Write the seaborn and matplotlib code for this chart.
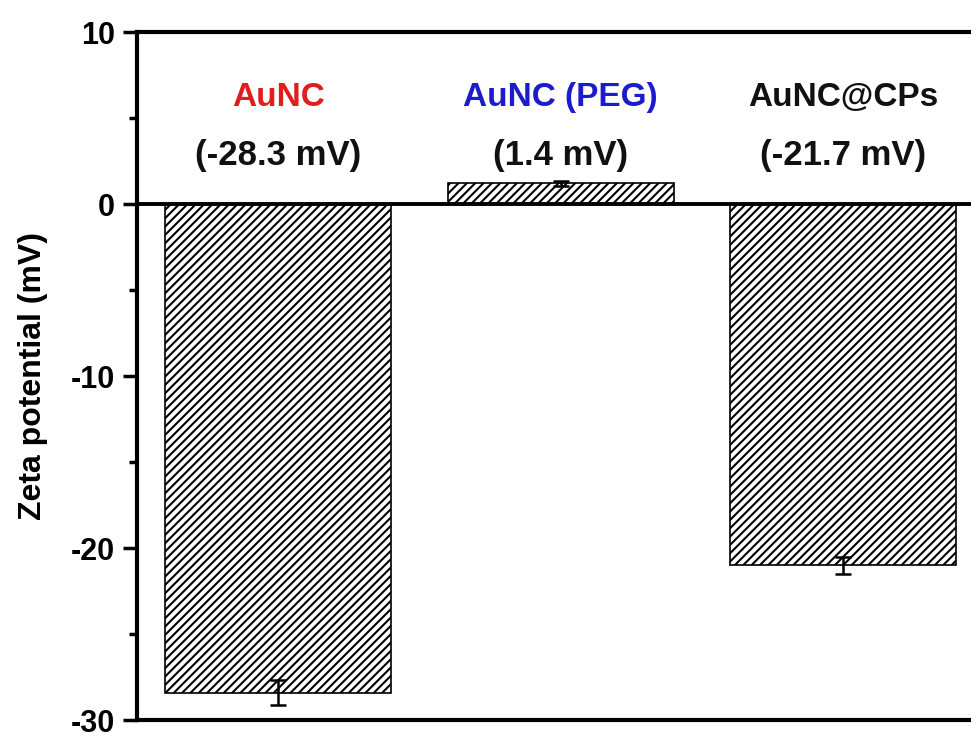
import matplotlib
matplotlib.use("Agg")
import matplotlib.pyplot as plt
import seaborn as sns
import pandas as pd
from matplotlib.ticker import MultipleLocator

# values
samples = ['AuNC', 'AuNC (PEG)', 'AuNC@CPs']
zeta = [-28.4, 1.2, -21.0]
zeta_err = [0.75, 0.15, 0.5]
label_values = ['(-28.3 mV)', '(1.4 mV)', '(-21.7 mV)']
label_colors = ['#e01e1e', '#1c1ccc', '#111111']

sns.set_style('ticks')
plt.rcParams['font.family'] = ['Liberation Sans', 'DejaVu Sans']
plt.rcParams['font.weight'] = 'bold'
plt.rcParams['axes.unicode_minus'] = False
plt.rcParams['hatch.linewidth'] = 1.5
plt.rcParams['ytick.color'] = 'black'
plt.rcParams['ytick.labelcolor'] = 'black'
plt.rcParams['axes.labelcolor'] = 'black'

df = pd.DataFrame({'sample': samples, 'zeta': zeta})

fig = plt.figure(figsize=(9.71, 7.33), dpi=100)
ax = fig.add_axes([0.1411, 0.0177, 0.8728, 0.9386])

sns.barplot(data=df, x='sample', y='zeta', order=samples, width=0.8,
            color='white', edgecolor='#222222', linewidth=1.2, ax=ax)
for p in ax.patches:
    p.set_hatch('////')
    p.set_facecolor('white')
    p.set_edgecolor('black')

ax.errorbar(range(len(samples)), zeta, yerr=zeta_err, fmt='none',
            ecolor='black', elinewidth=1.8, capsize=5.5, capthick=1.8, zorder=6)

ax.axhline(0, color='black', lw=2.8, zorder=5)

ax.set_xlim(-0.5, 2.5)
ax.set_ylim(-30, 10)
ax.yaxis.set_major_locator(MultipleLocator(10))
ax.yaxis.set_minor_locator(MultipleLocator(5))
ax.tick_params(axis='y', which='major', length=10, width=2.5, labelsize=22,
               pad=6, colors='black')
ax.tick_params(axis='y', which='minor', length=6, width=2.5, colors='black')
ax.tick_params(axis='x', bottom=False, labelbottom=False)
for lab in ax.get_yticklabels():
    lab.set_fontweight('bold')

for side in ['left', 'top', 'bottom']:
    ax.spines[side].set_linewidth(3)
    ax.spines[side].set_color('black')
ax.spines['right'].set_visible(False)

ax.set_xlabel('')
ax.set_ylabel('Zeta potential (mV)', fontsize=23, fontweight='bold',
              labelpad=16, color='black')

for i, name in enumerate(samples):
    ax.text(i, 6.2, name, ha='center', va='center', fontsize=24,
            fontweight='bold', color=label_colors[i])
    ax.text(i, 2.85, label_values[i], ha='center', va='center', fontsize=25,
            fontweight='bold', color='#111111')

fig.savefig('out.png', dpi=100)
